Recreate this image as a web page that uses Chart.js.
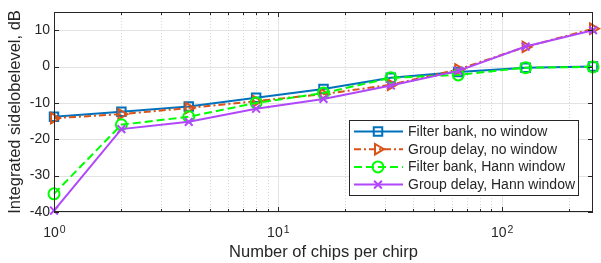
<!DOCTYPE html>
<html>
<head>
<meta charset="utf-8">
<script src="https://cdn.jsdelivr.net/npm/chart.js@4/dist/chart.umd.min.js"></script>
<style>
  html, body { margin: 0; padding: 0; background: #fff; }
  canvas { display: block; }
</style>
</head>
<body>
<canvas id="c" width="601" height="263"></canvas>
<script>
// chips per chirp (x, log scale)
const chips = [1, 2, 4, 8, 16, 32, 64, 128, 256];

// integrated sidelobe level, dB
const fbNoWin = [-13.8, -12.4, -11.0, -8.6, -6.2, -3.1, -1.5, -0.3, 0.0];
const gdNoWin = [-14.2, -13.1, -11.4, -9.5, -7.6, -5.0, -0.8, 5.4, 10.4];
const fbHann = [-35.0, -16.0, -13.8, -10.0, -7.3, -3.1, -2.3, -0.3, -0.1];
const gdHann = [-39.6, -17.2, -15.2, -11.6, -8.9, -5.2, -1.2, 5.5, 10.0];

const seriesNames = [
  'Filter bank, no window',
  'Group delay, no window',
  'Filter bank, Hann window',
  'Group delay, Hann window'
];

const yTicks = [-40, -30, -20, -10, 0, 10];
const xMajor = [1, 10, 100];
const xMinor = [2, 3, 4, 5, 6, 7, 8, 9, 20, 30, 40, 50, 60, 70, 80, 90, 200];

const FONT = '"Liberation Sans", Arial, Helvetica, sans-serif';
const TXT = '#262626';

function toPoints(ys) {
  return chips.map((x, i) => ({ x: x, y: ys[i] }));
}

const styles = [
  { color: '#0072BD', dash: [], point: 'rect', radius: 6, rot: 0 },
  { color: '#D95319', dash: [7, 3, 2, 3], point: 'triangle', radius: 6, rot: 90 },
  { color: '#00FF00', dash: [8, 4], point: 'circle', radius: 5.5, rot: 0 },
  { color: '#B147FA', dash: [], point: 'crossRot', radius: 5.5, rot: 0 }
];

const seriesData = [fbNoWin, gdNoWin, fbHann, gdHann];

// later series drawn on top, like the original plot
const datasets = seriesData.map((ys, i) => ({
  label: seriesNames[i],
  data: toPoints(ys),
  order: -i,
  borderColor: styles[i].color,
  backgroundColor: 'rgba(0,0,0,0)',
  borderWidth: 2,
  borderDash: styles[i].dash,
  pointStyle: styles[i].point,
  pointRadius: styles[i].radius,
  pointRotation: styles[i].rot,
  pointBorderWidth: 2,
  pointBorderColor: styles[i].color,
  pointBackgroundColor: 'rgba(0,0,0,0)',
  tension: 0,
  clip: false
}));

function drawMarker(ctx, st, x, y) {
  ctx.save();
  ctx.setLineDash([]);
  ctx.fillStyle = 'rgba(0,0,0,0)';
  ctx.strokeStyle = st.color;
  ctx.lineWidth = 2;
  Chart.helpers.drawPoint(ctx, {
    pointStyle: st.point, radius: st.radius, rotation: st.rot, borderWidth: 2
  }, x, y);
  ctx.restore();
}

const frame = {
  id: 'frame',
  beforeDatasetsDraw(chart) {
    const { ctx, chartArea: a, scales } = chart;
    const xs = scales.x, ys = scales.y;
    ctx.save();
    // major grid
    ctx.strokeStyle = '#e3e3e3';
    ctx.lineWidth = 1;
    ctx.setLineDash([]);
    yTicks.forEach(v => {
      const py = Math.round(ys.getPixelForValue(v)) + 0.5;
      ctx.beginPath(); ctx.moveTo(a.left, py); ctx.lineTo(a.right, py); ctx.stroke();
    });
    xMajor.forEach(v => {
      const px = Math.round(xs.getPixelForValue(v)) + 0.5;
      ctx.beginPath(); ctx.moveTo(px, a.top); ctx.lineTo(px, a.bottom); ctx.stroke();
    });
    // minor grid (dotted)
    ctx.strokeStyle = '#d6d6d6';
    ctx.setLineDash([1, 2]);
    xMinor.forEach(v => {
      const px = Math.round(xs.getPixelForValue(v)) + 0.5;
      ctx.beginPath(); ctx.moveTo(px, a.top); ctx.lineTo(px, a.bottom); ctx.stroke();
    });
    ctx.restore();
  },
  afterDatasetsDraw(chart) {
    const { ctx, chartArea: a, scales } = chart;
    const xs = scales.x, ys = scales.y;
    ctx.save();
    ctx.setLineDash([]);
    // box
    ctx.strokeStyle = '#262626';
    ctx.lineWidth = 1;
    ctx.strokeRect(a.left + 0.5, a.top + 0.5, a.right - a.left - 1, a.bottom - a.top - 1);
    // tick marks
    ctx.beginPath();
    yTicks.forEach(v => {
      const py = Math.round(ys.getPixelForValue(v)) + 0.5;
      ctx.moveTo(a.left, py); ctx.lineTo(a.left + 5, py);
      ctx.moveTo(a.right, py); ctx.lineTo(a.right - 5, py);
    });
    xMajor.forEach(v => {
      const px = Math.round(xs.getPixelForValue(v)) + 0.5;
      ctx.moveTo(px, a.bottom); ctx.lineTo(px, a.bottom - 5);
      ctx.moveTo(px, a.top); ctx.lineTo(px, a.top + 5);
    });
    xMinor.forEach(v => {
      const px = Math.round(xs.getPixelForValue(v)) + 0.5;
      ctx.moveTo(px, a.bottom); ctx.lineTo(px, a.bottom - 3);
      ctx.moveTo(px, a.top); ctx.lineTo(px, a.top + 3);
    });
    ctx.stroke();

    // y tick labels
    ctx.fillStyle = TXT;
    ctx.font = '14px ' + FONT;
    ctx.textAlign = 'right';
    ctx.textBaseline = 'middle';
    yTicks.forEach(v => {
      ctx.fillText(String(v), a.left - 4, ys.getPixelForValue(v));
    });
    // x tick labels 10^n
    xMajor.forEach((v, i) => {
      const px = xs.getPixelForValue(v);
      ctx.font = '14px ' + FONT;
      const w1 = ctx.measureText('10').width;
      ctx.font = '10.5px ' + FONT;
      const w2 = ctx.measureText(String(i)).width;
      const x0 = px - (w1 + w2) / 2;
      ctx.textAlign = 'left';
      ctx.textBaseline = 'alphabetic';
      ctx.font = '14px ' + FONT;
      ctx.fillText('10', x0, a.bottom + 25);
      ctx.font = '10.5px ' + FONT;
      ctx.fillText(String(i), x0 + w1 + 1, a.bottom + 20.5);
    });
    // axis titles
    ctx.font = '16.5px ' + FONT;
    ctx.textAlign = 'center';
    ctx.textBaseline = 'middle';
    ctx.fillText('Number of chips per chirp', (a.left + a.right) / 2, a.bottom + 40);
    ctx.save();
    ctx.translate(15, (a.top + a.bottom) / 2);
    ctx.rotate(-Math.PI / 2);
    ctx.fillText('Integrated sidelobelevel, dB', 0, 0);
    ctx.restore();

    // legend
    const lx = 349, ly = 120, lw = 229, lh = 75;
    ctx.fillStyle = '#fff';
    ctx.fillRect(lx, ly, lw, lh);
    ctx.strokeStyle = '#262626';
    ctx.lineWidth = 1;
    ctx.strokeRect(lx + 0.5, ly + 0.5, lw, lh);
    seriesNames.forEach((name, i) => {
      const st = styles[i];
      const yy = ly + 11.5 + i * 17.7;
      ctx.strokeStyle = st.color;
      ctx.lineWidth = 2;
      ctx.setLineDash(st.dash);
      ctx.beginPath(); ctx.moveTo(354, yy); ctx.lineTo(403, yy); ctx.stroke();
      drawMarker(ctx, st, 378, yy);
      ctx.fillStyle = TXT;
      ctx.font = '14px ' + FONT;
      ctx.textAlign = 'left';
      ctx.textBaseline = 'middle';
      ctx.fillText(name, 408, yy + 0.5);
    });
    ctx.restore();
  }
};

new Chart(document.getElementById('c'), {
  type: 'line',
  data: { datasets: datasets },
  options: {
    responsive: false,
    animation: false,
    devicePixelRatio: 1,
    layout: { padding: { top: 12, right: 1, left: 0, bottom: 0 } },
    plugins: { legend: { display: false }, tooltip: { enabled: false } },
    scales: {
      x: {
        type: 'logarithmic',
        min: 1,
        max: 256,
        ticks: { display: false },
        grid: { display: false },
        border: { display: false },
        afterFit: s => { s.height = 51; }
      },
      y: {
        type: 'linear',
        min: -40,
        max: 15,
        ticks: { display: false },
        grid: { display: false },
        border: { display: false },
        afterFit: s => { s.width = 54; }
      }
    }
  },
  plugins: [frame]
});
</script>
</body>
</html>
